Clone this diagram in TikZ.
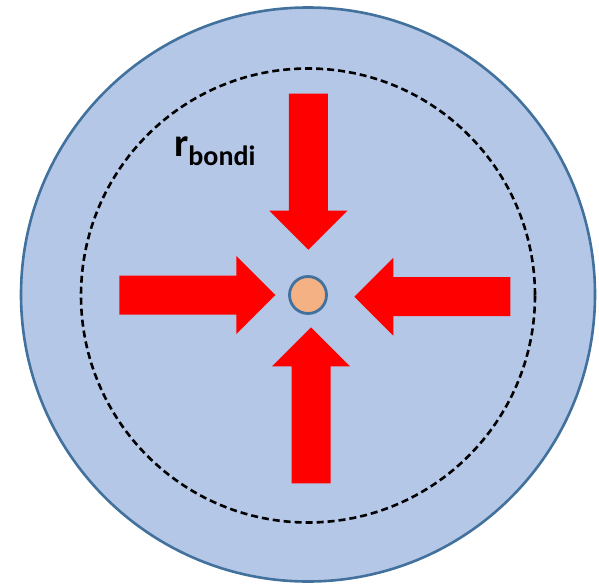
\documentclass[tikz,border=0pt]{standalone}
\usepackage{fontspec}
\setsansfont{Carlito}
\usepackage{tikz}
\usepackage{xcolor}
\usetikzlibrary{arrows.meta,positioning}
\definecolor{bdblue}{RGB}{65,113,156}
\definecolor{bdgas}{RGB}{180,199,231}
\definecolor{bdstar}{RGB}{244,177,131}
\definecolor{bdred}{RGB}{255,0,0}
\tikzset{
  bdcloud/.style={draw=bdblue, line width=2.6pt, fill=bdgas},
  bdradius/.style={draw=black, line width=2.6pt, dash pattern=on 7pt off 4pt},
  bdcore/.style={draw=bdblue, line width=2.8pt, fill=bdstar},
  bdflow/.style={fill=bdred},
  bdlabel/.style={font=\sffamily\bfseries\fontsize{40}{40}\selectfont, inner sep=0pt},
  pics/bdinflow/.style={code={
    \fill[bdflow] (0,0) -- (-39,39) -- (-39,19.5) -- (-156,19.5)
      -- (-156,-19.5) -- (-39,-19.5) -- (-39,-39) -- cycle;
  }}
}
\newcommand{\bdsub}[1]{{\fontsize{28}{28}\selectfont\raisebox{-9pt}{#1}}}

\begin{document}
\begin{tikzpicture}[x=1pt, y=-1pt]
  \useasboundingbox (0,0) rectangle (599,583);
  \draw[bdcloud] (308,294.5) circle (287);
  \draw[bdradius] (308,295.5) circle (227);
  \node[bdlabel, anchor=base west] (rbondi) at (174,156) {r\bdsub{bondi}};

  \pic[rotate=-90] at (308.3,249.7) {bdinflow};
  \pic at (275.3,295) {bdinflow};
  \pic[rotate=180] at (354.3,296.7) {bdinflow};
  \pic[rotate=90] at (311,327.3) {bdinflow};

  \draw[bdcore] (308,295) circle (18.5);
\end{tikzpicture}
\end{document}
